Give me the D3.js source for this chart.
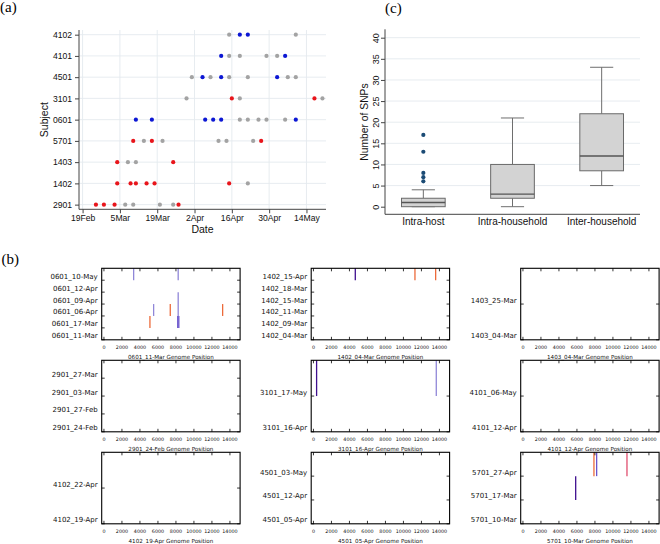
<!DOCTYPE html>
<html><head><meta charset="utf-8">
<script src="https://cdn.jsdelivr.net/npm/d3@7"></script>
<style>body{margin:0;background:#fff}svg{display:block}</style>
</head><body>
<svg id="c" width="660" height="544"></svg>
<script>
// ---------- Panel (a) data ----------
const subjects = ["2901","1402","1403","5701","0601","3101","4501","4101","4102"];
const dateTickLabels = ["19Feb","5Mar","19Mar","2Apr","16Apr","30Apr","14May"];
const dateTickValues = ["02-19","03-05","03-19","04-02","04-16","04-30","05-14"];
const redVisits = [["2901","02-24"],["2901","02-27"],["2901","03-03"],["2901","03-27"],
  ["1402","03-04"],["1402","03-09"],["1402","03-11"],["1402","03-15"],["1402","03-18"],["1402","04-15"],
  ["1403","03-04"],["1403","03-25"],
  ["5701","03-10"],["5701","03-17"],["5701","04-27"],
  ["3101","04-16"],["3101","05-17"]];
const blueVisits = [["0601","03-11"],["0601","03-17"],["0601","04-06"],["0601","04-09"],["0601","04-12"],["0601","05-10"],
  ["4501","04-05"],["4501","04-12"],["4501","05-03"],
  ["4101","04-12"],["4101","05-06"],
  ["4102","04-19"],["4102","04-22"]];
const grayVisits = [["2901","03-07"],["2901","03-10"],["2901","03-20"],["2901","03-25"],
  ["1402","04-22"],
  ["1403","03-08"],["1403","03-11"],
  ["5701","03-14"],["5701","03-21"],["5701","04-11"],["5701","04-14"],["5701","04-24"],
  ["0601","04-19"],["0601","04-22"],["0601","04-26"],["0601","04-29"],["0601","05-06"],
  ["3101","03-30"],["3101","04-19"],["3101","05-20"],
  ["4501","04-01"],["4501","04-08"],["4501","04-15"],["4501","04-22"],["4501","05-07"],["4501","05-10"],
  ["4101","04-15"],["4101","04-19"],["4101","04-29"],["4101","05-03"],
  ["4102","04-15"],["4102","05-10"]];

// ---------- Panel (c) data ----------
const boxCategories = ["Intra-host","Intra-household","Inter-household"];
const boxLow    = [0, 0, 5];
const boxQ1     = [0, 2, 8.5];
const boxMedian = [1, 3, 12];
const boxQ3     = [2, 10, 22];
const boxHigh   = [4, 21, 33];
const boxOutliers = [[6,7,8,13,17],[],[]];
const snpTicks = [0,5,10,15,20,25,30,35,40];

// ---------- Panel (b) data ----------
const panelSubjects = ["0601","1402","1403","2901","3101","4101","4102","4501","5701"];
const panelSamples = [
  ["11-Mar","17-Mar","06-Apr","09-Apr","12-Apr","10-May"],
  ["04-Mar","09-Mar","11-Mar","15-Mar","18-Mar","15-Apr"],
  ["04-Mar","25-Mar"],
  ["24-Feb","27-Feb","03-Mar","27-Mar"],
  ["16-Apr","17-May"],
  ["12-Apr","06-May"],
  ["19-Apr","22-Apr"],
  ["05-Apr","12-Apr","03-May"],
  ["10-Mar","17-Mar","27-Apr"]];
const genomeTicks = [0,2000,4000,6000,8000,10000,12000,14000];
// [panel, sample index, genome position, frequency class]
const snps = [
  [0,5,3300,2],[0,5,8250,2],[0,3,8250,2],[0,2,8250,2],[0,2,5520,2],
  [0,2,7370,4],[0,2,13190,4],[0,1,5110,4],[0,1,8200,1],[0,1,8320,1],
  [1,5,4650,0],[1,5,11280,4],[1,5,13580,4],
  [4,1,350,0],[4,1,13650,2],
  [8,2,7890,4],[8,2,8190,1],[8,2,11560,3],[8,1,5860,0]];
const freqClasses = [0,1,2,3,4];

// ---------- drawing ----------
const svg = d3.select("#c");
const sans = "'Liberation Sans', Arial, sans-serif";
const serif = "'Liberation Serif', 'Times New Roman', serif";
const dv = "'DejaVu Sans', sans-serif";

// panel letters
[["(a)",0,12],["(b)",1.5,264],["(c)",385,12.5]].forEach(([t,x,y])=>{
  svg.append("text").attr("x",x).attr("y",y).attr("font-family",serif).attr("font-size",15).text(t);
});

// ===== Panel (a) =====
(function(){
  const L=79,R=326,T=30,B=209.3;
  const parse = s => d3.utcParse("%Y-%m-%d")("2019-"+s);
  const x = d3.scaleUtc().domain([Date.UTC(2019,1,17,15,40), Date.UTC(2019,4,21,8)]).range([L,R]);
  const y = d3.scalePoint().domain(subjects).range([B,T]).padding(0.22);
  const g = svg.append("g");
  const tickDates = dateTickValues.map(parse);
  g.selectAll(".hg").data(subjects).join("line")
    .attr("x1",L).attr("x2",R).attr("y1",d=>y(d)).attr("y2",d=>y(d))
    .attr("stroke","#e4eaee").attr("stroke-width",0.9);
  g.selectAll(".vg").data(tickDates).join("line")
    .attr("x1",d=>x(d)).attr("x2",d=>x(d)).attr("y1",T).attr("y2",B)
    .attr("stroke","#e4eaee").attr("stroke-width",0.9);
  const ya = g.append("g").attr("transform",`translate(${L},0)`)
    .call(d3.axisLeft(y).tickSize(4).tickSizeOuter(0).tickPadding(3));
  ya.select(".domain").attr("d",`M0,${T}V${B}`);
  const xa = g.append("g").attr("transform",`translate(0,${B})`)
    .call(d3.axisBottom(x).tickValues(tickDates).tickFormat((d,i)=>dateTickLabels[i]).tickSize(4).tickSizeOuter(0).tickPadding(1.2));
  xa.select(".domain").attr("d",`M${L},0H${R}`);
  [ya,xa].forEach(a=>{
    a.selectAll("path,line").attr("stroke","#444");
    a.selectAll("text").attr("font-family",sans).attr("font-size",8.6).attr("fill","#111");
  });
  const dots = (arr,col)=> g.append("g").selectAll("circle").data(arr).join("circle")
    .attr("cx",d=>x(parse(d[1]))).attr("cy",d=>y(d[0])).attr("r",2.1).attr("fill",col);
  dots(grayVisits,"#a3a3a3");
  dots(redVisits,"#e8151b");
  dots(blueVisits,"#0c17d4");
  g.append("text").attr("transform",`translate(48,${(T+B)/2}) rotate(-90)`).attr("text-anchor","middle")
    .attr("font-family",sans).attr("font-size",10.5).attr("fill","#111").text("Subject");
  g.append("text").attr("x",(L+R)/2).attr("y",232.5).attr("text-anchor","middle")
    .attr("font-family",sans).attr("font-size",10.5).attr("fill","#111").text("Date");
})();

// ===== Panel (c) =====
(function(){
  const L=385,R=640,T=29.3,B=214.3;
  const y = d3.scaleLinear().domain([0,40]).range([206.7,37.7]);
  const x = d3.scalePoint().domain(boxCategories).range([L,R]).padding(0.43);
  const g = svg.append("g");
  g.selectAll(".hg").data(snpTicks.filter(d=>d>0)).join("line")
    .attr("x1",L).attr("x2",R).attr("y1",d=>y(d)).attr("y2",d=>y(d))
    .attr("stroke","#e4eaee").attr("stroke-width",0.9);
  const ya = g.append("g").attr("transform",`translate(${L},0)`)
    .call(d3.axisLeft(y).tickValues(snpTicks).tickSize(4).tickSizeOuter(0).tickFormat(d3.format("d")));
  ya.select(".domain").attr("d",`M0,${T}V${B}`);
  ya.selectAll("path,line").attr("stroke","#444");
  ya.selectAll("text").attr("x",-9.5).attr("y",0).attr("dy",0).attr("text-anchor","middle")
    .attr("transform","rotate(-90,-9.5,0)")
    .attr("dominant-baseline","central")
    .attr("font-family",sans).attr("font-size",9).attr("fill","#111");
  g.append("line").attr("x1",L).attr("x2",R).attr("y1",B).attr("y2",B).attr("stroke","#444");
  const bw = x.step()*0.49, cw = x.step()*0.26;
  boxCategories.forEach((c,i)=>{
    const cx = x(c);
    g.append("line").attr("x1",cx).attr("x2",cx).attr("y1",y(boxQ3[i])).attr("y2",y(boxHigh[i])).attr("stroke","#6e6e6e");
    g.append("line").attr("x1",cx).attr("x2",cx).attr("y1",y(boxQ1[i])).attr("y2",y(boxLow[i])).attr("stroke","#6e6e6e");
    g.append("line").attr("x1",cx-cw/2).attr("x2",cx+cw/2).attr("y1",y(boxHigh[i])).attr("y2",y(boxHigh[i])).attr("stroke","#6e6e6e");
    g.append("line").attr("x1",cx-cw/2).attr("x2",cx+cw/2).attr("y1",y(boxLow[i])).attr("y2",y(boxLow[i])).attr("stroke","#6e6e6e");
    g.append("rect").attr("x",cx-bw/2).attr("width",bw).attr("y",y(boxQ3[i])).attr("height",y(boxQ1[i])-y(boxQ3[i]))
      .attr("fill","#d3d3d3").attr("stroke","#6a6a6a").attr("stroke-width",1);
    g.append("line").attr("x1",cx-bw/2).attr("x2",cx+bw/2).attr("y1",y(boxMedian[i])).attr("y2",y(boxMedian[i]))
      .attr("stroke","#555").attr("stroke-width",1.3);
    g.selectAll(null).data(boxOutliers[i]).join("circle").attr("cx",cx).attr("cy",d=>y(d)).attr("r",2.1).attr("fill","#1b4b75");
    g.append("text").attr("x",cx).attr("y",225).attr("text-anchor","middle").attr("font-family",sans)
      .attr("font-size",10).attr("fill","#111").text(c);
  });
  g.append("text").attr("transform",`translate(367.5,122) rotate(-90)`).attr("text-anchor","middle")
    .attr("font-family",sans).attr("font-size",10.3).attr("fill","#111").text("Number of SNPs");
})();

// ===== Panel (b) =====
(function(){
  const ox=101.7, oy=268.3, colStep=209.5, rowStep=92, w=138.4, h=71.5;
  const color = d3.scaleOrdinal().domain(freqClasses).range(["#3f0f8f","#6a55cc","#9087d8","#e04e6e","#ec6a3a"]);
  const x = d3.scaleLinear().domain([-250,15130]).range([0,w]);
  panelSubjects.forEach((s,p)=>{
    const n = panelSamples[p].length;
    const y = d3.scaleLinear().domain([0,n]).range([h,0]);
    const g = svg.append("g").attr("transform",`translate(${ox+(p%3)*colStep},${oy+Math.floor(p/3)*rowStep})`);
    g.selectAll(".snp").data(snps.filter(d=>d[0]===p)).join("line")
      .attr("x1",d=>x(d[2])).attr("x2",d=>x(d[2])).attr("y1",d=>y(d[1])).attr("y2",d=>y(d[1]+1))
      .attr("stroke",d=>color(d[3])).attr("stroke-width",1.3);
    g.selectAll(".tx").data(genomeTicks).join("path")
      .attr("d",d=>`M${x(d)},0v3M${x(d)},${h}v-3`).attr("stroke","#000").attr("stroke-width",0.8);
    const idx = d3.range(n);
    g.selectAll(".ty").data(idx).join("path")
      .attr("d",d=>`M0,${y(d)}h3M${w},${y(d)}h-3`).attr("stroke","#000").attr("stroke-width",0.8);
    g.append("rect").attr("width",w).attr("height",h).attr("fill","none").attr("stroke","#000").attr("stroke-width",1.1);
    g.selectAll(".yl").data(idx).join("text")
      .attr("x",-4).attr("y",d=>y(d)-1.5).attr("text-anchor","end")
      .attr("font-family",dv).attr("font-size",7).attr("fill","#111")
      .text(d=>s+"_"+panelSamples[p][d]);
    g.selectAll(".xl").data(genomeTicks).join("text")
      .attr("x",d=>x(d)).attr("y",h+8.8).attr("text-anchor","middle")
      .attr("font-family",dv).attr("font-size",4.8).attr("fill","#111").text(d=>String(d));
    g.append("text").attr("x",w/2).attr("y",h+19).attr("text-anchor","middle")
      .attr("font-family",dv).attr("font-size",5.6).attr("fill","#111")
      .text(s+"_"+panelSamples[p][0]+" Genome Position");
  });
})();
</script>
</body></html>
